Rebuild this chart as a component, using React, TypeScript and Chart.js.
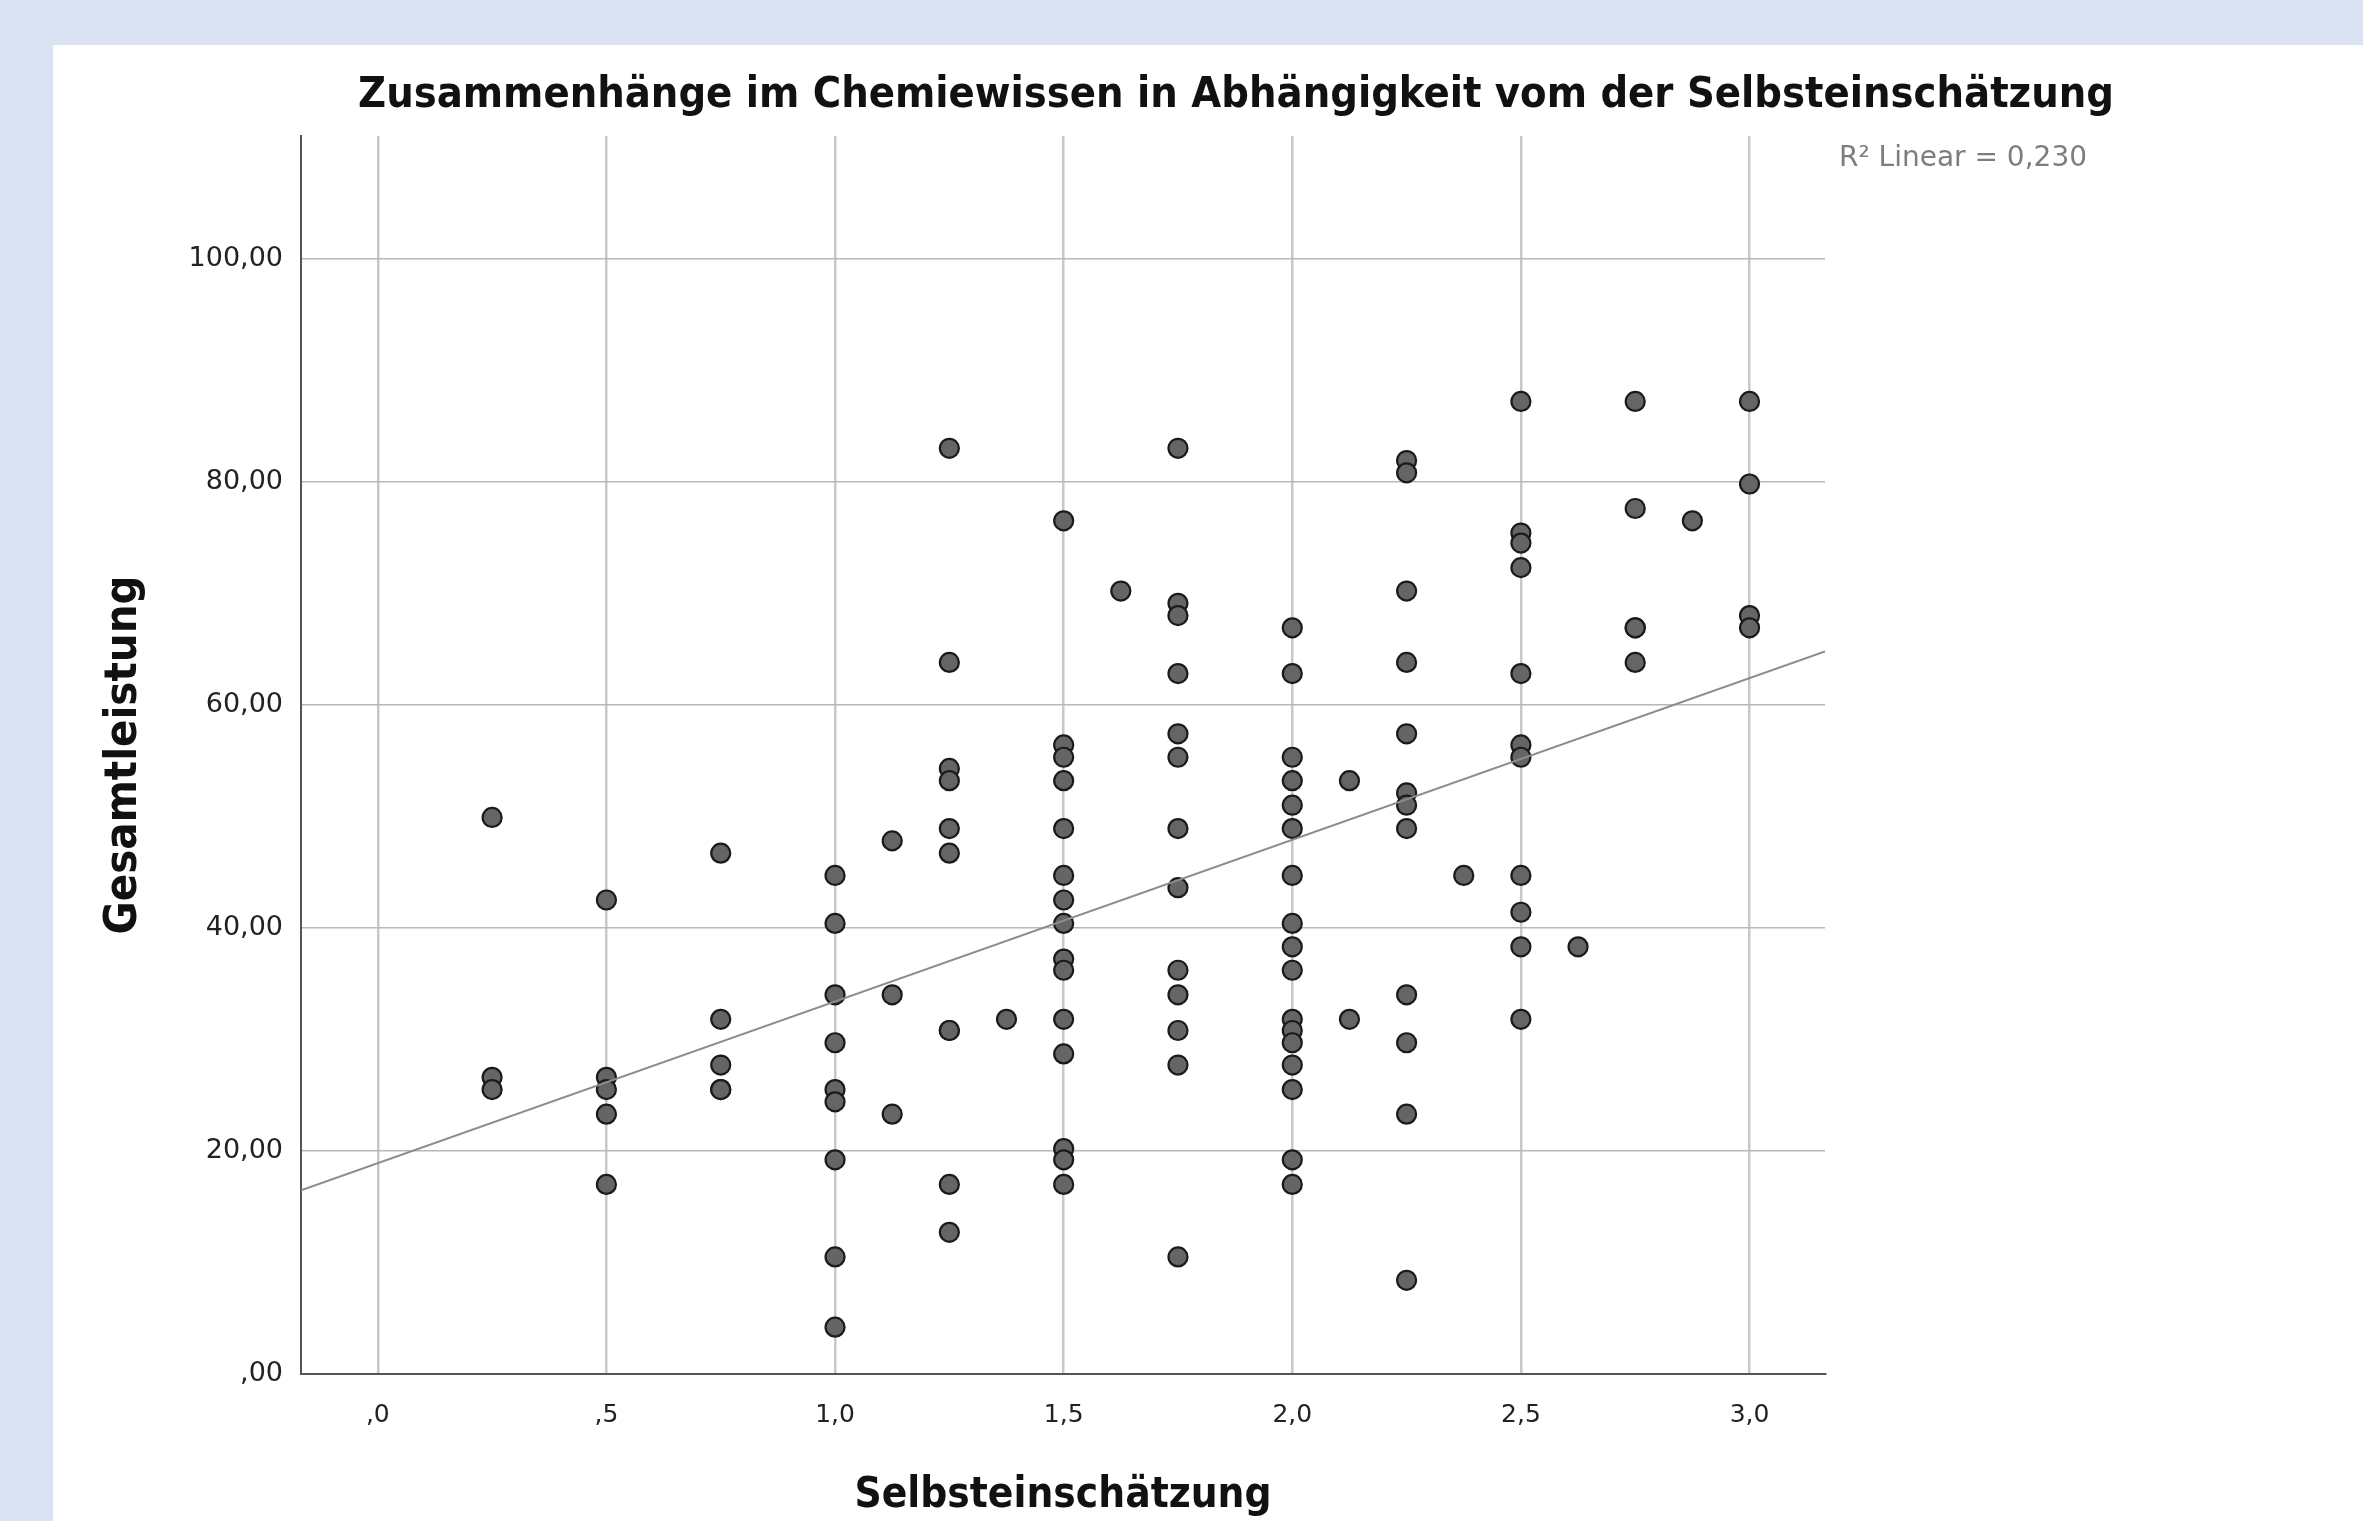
import { useEffect, useRef } from "react";
import { Chart, registerables } from "chart.js";

Chart.register(...registerables);

// ---- texts ----
const chartTitle = "Zusammenhänge im Chemiewissen in Abhängigkeit vom der Selbsteinschätzung";
const xTitle = "Selbsteinschätzung";
const yTitle = "Gesamtleistung";
const r2Label = "R² Linear = 0,230";

// ---- axes ----
const xTicks = [0, 0.5, 1, 1.5, 2, 2.5, 3];
const yTicks = [0, 20, 40, 60, 80, 100];
const xMin = -0.168;
const xMax = 3.165;
const yMin = 0;
const yMax = 111;

// ---- linear fit (as shown in the chart) ----
const fitIntercept = 18.9;
const fitSlope = 14.5;

// ---- data: Gesamtleistung per Selbsteinschätzung level ----
const levels = [0.25, 0.5, 0.75, 1, 1.125, 1.25, 1.375, 1.5, 1.625, 1.75, 2, 2.125, 2.25, 2.375, 2.5, 2.625, 2.75, 2.875, 3];
const at0_25 = [49.9, 26.6, 25.5];
const at0_5 = [42.5, 26.6, 25.5, 23.3, 17.0];
const at0_75 = [46.7, 31.8, 27.7, 25.5, 25.5];
const at1_0 = [44.7, 40.4, 34.0, 29.7, 25.5, 24.4, 19.2, 10.5, 4.2];
const at1_125 = [47.8, 34.0, 23.3];
const at1_25 = [83.0, 63.8, 54.3, 53.2, 48.9, 46.7, 30.8, 30.8, 17.0, 12.7];
const at1_375 = [31.8];
const at1_5 = [76.5, 56.4, 55.3, 53.2, 48.9, 44.7, 42.5, 40.4, 37.2, 36.2, 31.8, 28.7, 20.2, 19.2, 17.0];
const at1_625 = [70.2];
const at1_75 = [83.0, 69.1, 68.0, 62.8, 57.4, 55.3, 48.9, 43.6, 36.2, 34.0, 30.8, 27.7, 10.5];
const at2_0 = [66.9, 62.8, 55.3, 53.2, 51.0, 48.9, 44.7, 40.4, 38.3, 36.2, 31.8, 30.8, 29.7, 27.7, 25.5, 19.2, 17.0];
const at2_125 = [53.2, 31.8];
const at2_25 = [81.9, 80.8, 70.2, 63.8, 57.4, 52.1, 51.0, 48.9, 34.0, 29.7, 23.3, 8.4];
const at2_375 = [44.7];
const at2_5 = [87.2, 75.4, 74.5, 72.3, 62.8, 56.4, 55.3, 44.7, 41.4, 38.3, 31.8];
const at2_625 = [38.3];
const at2_75 = [87.2, 77.6, 66.9, 66.9, 63.8];
const at2_875 = [76.5];
const at3_0 = [87.2, 79.8, 68.0, 66.9];
const scoresByLevel = [at0_25, at0_5, at0_75, at1_0, at1_125, at1_25, at1_375, at1_5, at1_625, at1_75, at2_0, at2_125, at2_25, at2_375, at2_5, at2_625, at2_75, at2_875, at3_0];

const W = 2363;
const H = 1521;
const PLOT_LEFT = 301;
const PLOT_RIGHT = 1825;
const PLOT_TOP = 136;
const PLOT_BOTTOM = 1374;

const condensed = "'Liberation Sans Narrow', 'DejaVu Sans Condensed', 'Arial Narrow', sans-serif";
const plain = "'DejaVu Sans', 'Liberation Sans', sans-serif";

function fmtY(v: number) {
  let s = v.toFixed(2).replace(".", ",");
  if (s.startsWith("0")) s = s.slice(1);
  return s;
}
function fmtX(v: number) {
  let s = v.toFixed(1).replace(".", ",");
  if (s.startsWith("0")) s = s.slice(1);
  return s;
}

const textPlugin = {
  id: "textPlugin",
  afterDraw(chart: any) {
    const ctx = chart.ctx;
    ctx.save();
    ctx.fillStyle = "#111";
    ctx.font = `bold 43px ${condensed}`;
    ctx.textAlign = "center";
    ctx.textBaseline = "middle";
    ctx.fillText(chartTitle, 1236, 96);
    ctx.fillStyle = "#7d7d7d";
    ctx.font = `28px ${plain}`;
    ctx.textAlign = "left";
    ctx.fillText(r2Label, 1839, 159);
    ctx.restore();
  },
};

export default function App() {
  const ref = useRef<HTMLCanvasElement | null>(null);
  useEffect(() => {
    document.body.style.margin = "0";
    const points: { x: number; y: number }[] = [];
    levels.forEach((lv, i) => {
      scoresByLevel[i].forEach((y) => points.push({ x: lv, y }));
    });
    const fitLine = [xMin, xMax].map((x) => ({ x, y: fitIntercept + fitSlope * x }));
    const chart = new Chart(ref.current as HTMLCanvasElement, {
      type: "scatter",
      data: {
        datasets: [
          {
            type: "line",
            data: fitLine,
            borderColor: "#8c8c8c",
            borderWidth: 2,
            pointRadius: 0,
            fill: false,
          } as any,
          {
            data: points,
            backgroundColor: "#656565",
            borderColor: "#1a1a1a",
            borderWidth: 2.2,
            pointRadius: 9.5,
          },
        ],
      },
      options: {
        responsive: false,
        animation: false,
        layout: { padding: { left: 0, right: W - PLOT_RIGHT, top: PLOT_TOP, bottom: 0 } },
        plugins: {
          legend: { display: false },
          tooltip: { enabled: false },
          title: { display: false },
        },
        scales: {
          x: {
            type: "linear",
            min: xMin,
            max: xMax,
            afterBuildTicks: (s: any) => {
              s.ticks = xTicks.map((v) => ({ value: v }));
            },
            afterFit: (s: any) => {
              s.height = H - PLOT_BOTTOM;
            },
            grid: { color: "#c8c8c8", lineWidth: 2.5, drawTicks: false },
            border: { color: "#555", width: 2 },
            ticks: {
              callback: (v: any) => fmtX(Number(v)),
              padding: 26,
              color: "#222",
              font: { family: plain, size: 25 },
            },
            title: {
              display: true,
              text: xTitle,
              color: "#111",
              font: { family: condensed, size: 42, weight: "bold", lineHeight: 1 },
              padding: { top: 0, bottom: 4 },
            },
          },
          y: {
            type: "linear",
            min: yMin,
            max: yMax,
            afterBuildTicks: (s: any) => {
              s.ticks = yTicks.map((v) => ({ value: v }));
            },
            afterFit: (s: any) => {
              s.width = PLOT_LEFT;
            },
            grid: { color: "#b8b8b8", lineWidth: 1.5, drawTicks: false },
            border: { color: "#555", width: 2 },
            ticks: {
              callback: (v: any) => fmtY(Number(v)),
              padding: 18,
              color: "#222",
              font: { family: plain, size: 27 },
            },
            title: {
              display: true,
              text: yTitle,
              color: "#111",
              font: { family: condensed, size: 45, weight: "bold", lineHeight: 1 },
              padding: { top: 102, bottom: 0 },
            },
          },
        },
      },
      plugins: [textPlugin],
    });
    return () => chart.destroy();
  }, []);

  return (
    <div style={{ position: "relative", width: W, height: H, background: "#dae3f3", overflow: "hidden" }}>
      <div style={{ position: "absolute", left: 53, top: 45, right: 0, bottom: 0, background: "#ffffff" }} />
      <canvas ref={ref} width={W} height={H} style={{ position: "absolute", left: 0, top: 0, width: W, height: H }} />
    </div>
  );
}
